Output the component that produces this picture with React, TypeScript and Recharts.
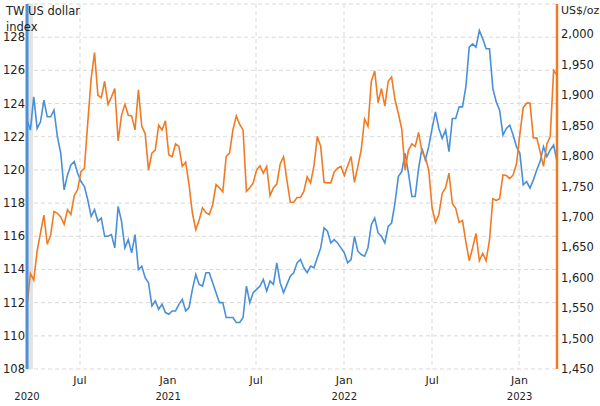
import React from 'react'
import { LineChart, Line, XAxis, YAxis, CartesianGrid, ReferenceArea } from 'recharts'

// weekly readings, mid-March 2020 to March 2023
const usdIndex = [
  123.0, 122.4, 124.4, 122.5, 122.9, 124.2, 123.2, 123.2, 123.6, 122.0,
  121.0, 118.8, 119.7, 120.3, 120.5, 119.8, 119.3, 119.0, 118.2, 117.2,
  117.6, 116.9, 117.1, 116.0, 116.0, 116.1, 115.3, 117.8, 116.9, 115.3,
  115.8, 115.0, 116.1, 114.0, 114.2, 113.5, 113.2, 111.8, 112.1, 111.6,
  111.9, 111.4, 111.3, 111.5, 111.5, 111.9, 112.2, 111.5, 111.7, 112.8,
  113.7, 113.1, 113.0, 113.8, 113.8,
  113.2, 112.6, 112.0, 112.0, 111.1, 111.1, 111.1, 110.8, 110.8, 111.1,
  113.0, 112.0, 112.6, 112.8, 113.0, 113.4, 112.7, 113.3, 113.1, 114.4,
  113.2, 112.6, 113.1, 113.6, 113.8, 114.4, 114.6, 114.1, 113.8, 114.2,
  114.1, 114.7, 115.3, 116.5, 116.3, 115.6, 115.8, 115.6, 115.3, 115.0,
  114.4, 114.6, 116.0, 115.1, 114.9, 114.8, 115.3, 116.7, 117.1, 116.2,
  116.0, 115.6, 116.6,
  116.8, 118.0, 119.6, 119.9, 121.0, 119.8, 118.4, 118.4, 120.1, 121.3,
  120.6, 121.4, 122.5, 123.5, 122.5, 121.9, 122.4, 121.1, 123.1, 123.1,
  123.8, 123.8, 125.0, 127.4, 127.6, 127.4, 128.4, 127.9, 127.3, 127.3,
  124.9, 124.1, 123.6, 122.1, 122.5, 122.7, 122.1, 121.4, 121.0, 119.1,
  119.3, 118.9, 119.4, 120.0, 120.5, 121.4, 120.8, 121.2, 121.5, 120.5,
]

const goldPrice = [
  1554, 1607, 1596, 1644, 1674, 1703, 1655, 1670, 1709, 1706,
  1700, 1688, 1712, 1704, 1735, 1745, 1775, 1780, 1855, 1927,
  1970, 1900, 1896, 1923, 1885, 1897, 1911, 1825, 1867, 1885,
  1867, 1866, 1843, 1909, 1849, 1837, 1777, 1805, 1810, 1851,
  1843, 1858, 1802, 1799, 1820, 1816, 1783, 1790, 1753, 1706,
  1679, 1695, 1715, 1707, 1704,
  1720, 1753, 1748, 1741, 1799, 1805, 1843, 1866, 1852, 1843,
  1742, 1748, 1756, 1777, 1784, 1772, 1783, 1735, 1748, 1754,
  1787, 1799, 1760, 1724, 1724, 1732, 1732, 1742, 1766, 1756,
  1784, 1832, 1816, 1757, 1756, 1756, 1774, 1780, 1783, 1768,
  1784, 1799, 1757, 1783, 1810, 1861, 1849, 1923, 1940, 1888,
  1911, 1882, 1923,
  1930, 1893, 1870, 1845, 1777, 1810, 1820, 1816, 1839, 1807,
  1798, 1777, 1715, 1691, 1704, 1739, 1748, 1772, 1722, 1714,
  1691, 1694, 1659, 1628, 1649, 1673, 1628, 1640, 1628, 1662,
  1730, 1727, 1730, 1769, 1768, 1763, 1769, 1787, 1836, 1880,
  1887, 1887, 1830, 1830, 1807, 1783, 1820, 1832, 1941, 1933,
]

// week index of each month tick
const monthTicks = [0, 15.7, 41.8, 67.9, 94, 120, 145.9]
const monthLabels = ['', 'Jul', 'Jan', 'Jul', 'Jan', 'Jul', 'Jan']
const yearLabels = ['2020', '', '2021', '', '2022', '', '2023']

const leftTicks = [108, 110, 112, 114, 116, 118, 120, 122, 124, 126, 128, 130]
const rightTicks = [1450, 1500, 1550, 1600, 1650, 1700, 1750, 1800, 1850, 1900, 1950, 2000, 2050]

const data = usdIndex.map((v, i) => ({ week: i, usd: v, gold: goldPrice[i] }))

const font = 'Tahoma, "DejaVu Sans", sans-serif'
const blue = '#4a90d9'
const orange = '#f07b25'

function MonthTick({ x, y, payload }: any) {
  const i = monthTicks.indexOf(payload.value)
  return (
    <g>
      <text x={x} y={y + 7} textAnchor="middle" fontSize={11} fontFamily={font} fill="#222">
        {monthLabels[i]}
      </text>
      <text x={x} y={y + 23} textAnchor="middle" fontSize={10} fontFamily={font} fill="#222">
        {yearLabels[i]}
      </text>
    </g>
  )
}

function LeftTick({ y, payload }: any) {
  if (payload.value === 130) return null
  return (
    <text x={25} y={y + 4} textAnchor="end" fontSize={11.5} fontFamily={font} fill="#222">
      {payload.value}
    </text>
  )
}

function RightTick({ y, payload }: any) {
  if (payload.value === 2050) return null
  return (
    <text x={561} y={y + 4} textAnchor="start" fontSize={11.5} fontFamily={font} fill="#222">
      {payload.value.toLocaleString('en-US')}
    </text>
  )
}

export default function App() {
  return (
    <div style={{ position: 'absolute', left: 0, top: 0, width: 600, height: 406, background: '#fff' }}>
      <LineChart width={600} height={406} data={data} margin={{ top: 4, right: 0, bottom: 0, left: 0 }}>
        <CartesianGrid
          yAxisId="l"
          stroke="#d9d9d9"
          strokeDasharray="4 3"
          verticalPoints={[80, 256, 344, 432, 519]}
        />
        <ReferenceArea yAxisId="l" x1={0} x2={1.8} fill="#e3e3e3" fillOpacity={1} stroke="none" />
        <XAxis
          dataKey="week"
          type="number"
          domain={[0, 157]}
          ticks={monthTicks}
          tick={<MonthTick />}
          tickLine={false}
          axisLine={false}
          height={37}
          interval={0}
        />
        <YAxis
          yAxisId="l"
          domain={[108, 130]}
          ticks={leftTicks}
          tick={<LeftTick />}
          tickLine={false}
          axisLine={{ stroke: blue, strokeWidth: 3 }}
          width={27}
          interval={0}
        />
        <YAxis
          yAxisId="r"
          orientation="right"
          domain={[1450, 2050]}
          ticks={rightTicks}
          tick={<RightTick />}
          tickLine={false}
          axisLine={{ stroke: orange, strokeWidth: 2.5 }}
          width={43}
          interval={0}
        />
        <Line yAxisId="l" dataKey="usd" stroke={blue} strokeWidth={1.6} dot={false} isAnimationActive={false} />
        <Line yAxisId="r" dataKey="gold" stroke={orange} strokeWidth={1.6} dot={false} isAnimationActive={false} />
      </LineChart>
      <div style={{ position: 'absolute', left: 6, top: 3, fontFamily: font, fontSize: 11.5, lineHeight: '16px', color: '#222' }}>
        TW US dollar
        <br />
        index
      </div>
      <div style={{ position: 'absolute', left: 561, top: 3, fontFamily: font, fontSize: 11, lineHeight: '16px', color: '#222' }}>
        US$/oz
      </div>
    </div>
  )
}
